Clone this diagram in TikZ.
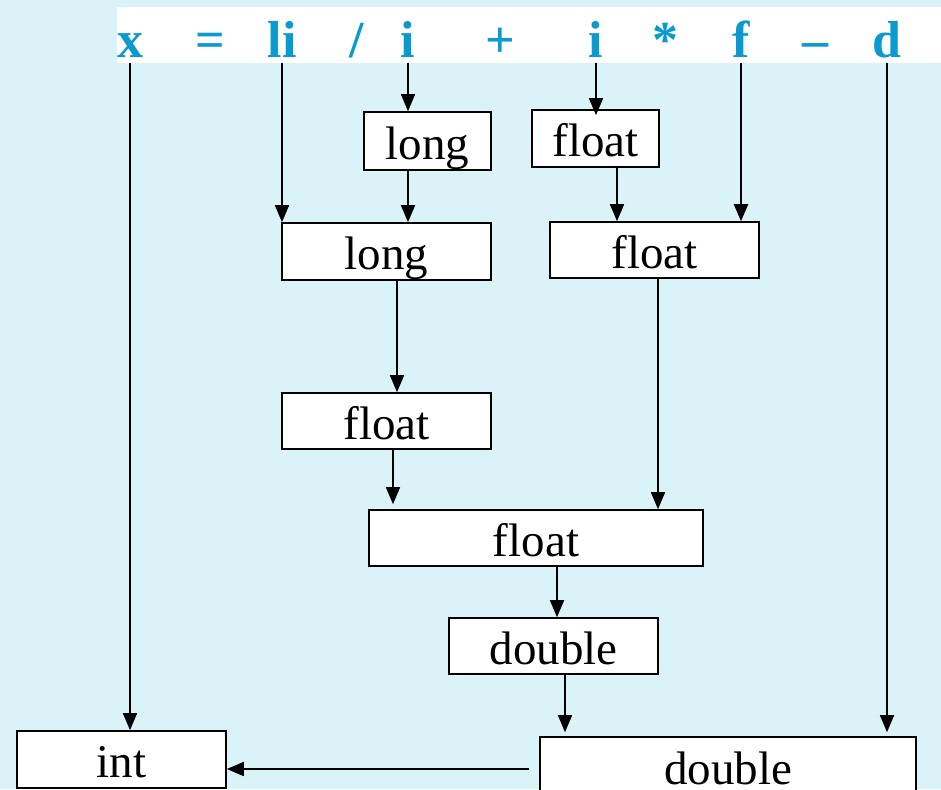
\documentclass[tikz,border=0pt]{standalone}
\usepackage{fontspec}
\setmainfont{Liberation Serif}
\usetikzlibrary{arrows.meta}
\definecolor{bgc}{HTML}{DAF3F8}
\definecolor{tokc}{HTML}{0A9AD0}
\begin{document}
\begin{tikzpicture}[x=1pt,y=-1pt,
  box/.style={draw=black,line width=1.6pt,fill=white,inner sep=0pt,
    font=\fontsize{47}{50}\selectfont,text height=38pt,text depth=2pt},
  tok/.style={text=tokc,font=\fontsize{52}{56}\selectfont\bfseries,inner sep=0pt,anchor=base},
  arr/.style={line width=1.6pt,-{Triangle[length=17pt,width=14pt]}},
]
\useasboundingbox (0,0) rectangle (941,789);
\clip (0,0) rectangle (941,789);
\fill[bgc] (0,0) rectangle (941,789);
\node[fill=white,inner sep=0pt,minimum width=824pt,minimum height=56pt] (bar) at (529,35) {};
% tokens
\node[tok] (tx) at (130,58) {x};
\node[tok] (teq) at (210,58) {=};
\node[tok] (tli) at (282,58) {li};
\node[tok] (tdiv) at (357,58) {/};
\node[tok] (ti1) at (408,58) {i};
\node[tok] (tplus) at (500,58) {+};
\node[tok] (ti2) at (596,58) {i};
\node[tok] (tstar) at (665,58) {*};
\node[tok] (tf) at (741,58) {f};
\node[tok] (tminus) at (815,58) {–};
\node[tok] (td) at (887,58) {d};
% boxes
\node[box,minimum width=127pt,minimum height=58pt] (ls) at (427.5,141) {long};
\node[box,minimum width=127pt,minimum height=57pt] (fs) at (595.5,138.5) {float};
\node[box,minimum width=209pt,minimum height=57pt] (lb) at (386.5,251.5) {long};
\node[box,minimum width=209pt,minimum height=56pt] (fb) at (654.5,250) {float};
\node[box,minimum width=209pt,minimum height=56pt] (fm) at (386.5,421) {float};
\node[box,minimum width=334pt,minimum height=56pt] (fw) at (536,538) {float};
\node[box,minimum width=209pt,minimum height=56pt] (db) at (553.5,646) {double};
\node[box,minimum width=209pt,minimum height=57pt] (in) at (121.5,759.5) {int};
\node[box,minimum width=376pt,minimum height=58pt] (dd) at (728,766) {double};
% connectors
\draw[arr] (tx |- bar.south) -- (tx |- in.north);
\draw[arr] (tli |- bar.south) -- (tli |- lb.north);
\draw[arr] (ti1 |- bar.south) -- (ti1 |- ls.north);
\draw[arr] (ti1 |- ls.south) -- (ti1 |- lb.north);
\draw[arr] (ti2 |- bar.south) -- ([yshift=-6pt]ti2 |- fs.north);
\draw[arr] ([xshift=21.5pt]fs.south) -- ([xshift=21.5pt]fs.south |- fb.north);
\draw[arr,line width=2.2pt] (tf |- bar.south) -- (tf |- fb.north);
\draw[arr] ([xshift=10.5pt]lb.south) -- ([xshift=10.5pt]lb.south |- fm.north);
\draw[arr] ([xshift=3.5pt]fb.south) -- ([xshift=3.5pt]fb.south |- fw.north);
\draw[arr] ([xshift=6.5pt]fm.south) -- ([xshift=6.5pt,yshift=5pt]fm.south |- fw.north);
\draw[arr] ([xshift=21pt]fw.south) -- ([xshift=21pt]fw.south |- db.north);
\draw[arr] ([xshift=11.5pt]db.south) -- ([xshift=11.5pt,yshift=4pt]db.south |- dd.north);
\draw[arr] (td |- bar.south) -- ([yshift=4pt]td |- dd.north);
\coordinate (dw) at ([shift={(-10,3)}]dd.west);
\draw[arr] (dw) -- (in.east |- dw);
\end{tikzpicture}
\end{document}
